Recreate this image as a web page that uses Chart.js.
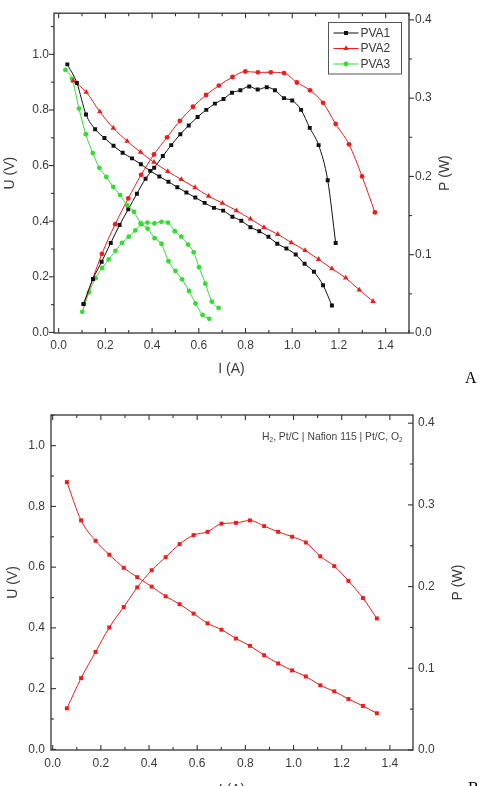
<!DOCTYPE html>
<html>
<head>
<meta charset="utf-8">
<script src="https://cdn.jsdelivr.net/npm/chart.js@4/dist/chart.umd.min.js"></script>
<style>
html,body{margin:0;padding:0;background:#fff;overflow:hidden;width:484px;height:786px;}
#ca{position:absolute;left:0;top:0;}
#cb{position:absolute;left:0;top:390px;}
.panel{position:absolute;font-family:"Liberation Serif","Times New Roman",serif;font-size:16px;color:#000;line-height:16px;}
#note{position:absolute;right:81px;top:431px;font-family:"Liberation Sans",Arial,sans-serif;font-size:11px;line-height:11px;color:#444;white-space:nowrap;transform:scaleX(0.94);transform-origin:right center;}
#note sub{font-size:7px;line-height:0;vertical-align:-2px;}
</style>
</head>
<body>
<canvas id="ca" width="484" height="390"></canvas>
<canvas id="cb" width="484" height="420"></canvas>
<div class="panel" style="left:465px;top:370px;">A</div>
<div class="panel" style="left:468px;top:780px;">B</div>
<div id="note">H<sub>2</sub>, Pt/C | Nafion 115 | Pt/C, O<sub>2</sub></div>
<script>
// ---------- Panel A data ----------
const seriesNamesA = ['PVA1','PVA2','PVA3'];
const pva1U_I = [0.037,0.078,0.117,0.156,0.196,0.235,0.274,0.314,0.352,0.392,0.431,0.470,0.508,0.547,0.585,0.625,0.665,0.704,0.744,0.782,0.821,0.859,0.898,0.936,0.975,1.015,1.053,1.093,1.132,1.170];
const pva1U_V = [0.964,0.897,0.784,0.731,0.699,0.671,0.646,0.626,0.605,0.581,0.561,0.542,0.522,0.503,0.485,0.466,0.448,0.438,0.416,0.402,0.378,0.364,0.344,0.319,0.302,0.280,0.247,0.218,0.170,0.097];
const pva1P_I = [0.106,0.147,0.184,0.223,0.261,0.298,0.335,0.372,0.409,0.446,0.482,0.521,0.557,0.595,0.632,0.669,0.706,0.742,0.778,0.816,0.852,0.891,0.926,0.965,1.000,1.038,1.075,1.113,1.152,1.186];
const pva1P_W = [0.037,0.069,0.091,0.115,0.138,0.158,0.178,0.197,0.211,0.226,0.240,0.254,0.265,0.276,0.285,0.293,0.299,0.307,0.310,0.315,0.311,0.314,0.310,0.300,0.297,0.285,0.262,0.240,0.195,0.115];
const pva2U_I = [0.062,0.118,0.176,0.234,0.293,0.351,0.408,0.467,0.525,0.584,0.642,0.701,0.761,0.821,0.879,0.938,0.996,1.055,1.113,1.170,1.229,1.287,1.346];
const pva2U_V = [0.905,0.864,0.794,0.735,0.688,0.648,0.612,0.579,0.550,0.521,0.490,0.465,0.438,0.408,0.378,0.353,0.323,0.295,0.263,0.229,0.196,0.153,0.112];
const pva2P_I = [0.108,0.185,0.242,0.298,0.353,0.408,0.464,0.519,0.575,0.631,0.686,0.744,0.799,0.853,0.908,0.965,1.020,1.076,1.132,1.186,1.243,1.299,1.354];
const pva2P_W = [0.037,0.101,0.139,0.172,0.202,0.228,0.250,0.271,0.289,0.304,0.316,0.327,0.334,0.333,0.333,0.332,0.320,0.310,0.294,0.267,0.241,0.200,0.154];
const pva3U_I = [0.029,0.057,0.087,0.116,0.146,0.174,0.204,0.234,0.263,0.292,0.322,0.351,0.381,0.411,0.440,0.470,0.500,0.528,0.558,0.586,0.616,0.645];
const pva3U_V = [0.944,0.912,0.805,0.713,0.645,0.592,0.559,0.523,0.494,0.458,0.434,0.393,0.373,0.339,0.319,0.256,0.221,0.191,0.149,0.104,0.063,0.049];
const pva3P_I = [0.101,0.130,0.158,0.186,0.214,0.243,0.271,0.300,0.328,0.354,0.380,0.410,0.440,0.468,0.497,0.525,0.554,0.578,0.601,0.628,0.656,0.685];
const pva3P_W = [0.027,0.052,0.070,0.083,0.094,0.105,0.115,0.123,0.131,0.139,0.141,0.140,0.142,0.141,0.130,0.123,0.113,0.103,0.084,0.063,0.040,0.032];
const ticksA_x = [0.0,0.2,0.4,0.6,0.8,1.0,1.2,1.4];
const ticksA_U = [0.0,0.2,0.4,0.6,0.8,1.0];
const ticksA_P = [0.0,0.1,0.2,0.3,0.4];

// ---------- Panel B data ----------
const nafionU_I = [0.059,0.118,0.178,0.235,0.295,0.351,0.411,0.469,0.527,0.585,0.643,0.701,0.761,0.819,0.878,0.936,0.994,1.051,1.111,1.169,1.228,1.288,1.346];
const nafionU_V = [0.880,0.754,0.687,0.641,0.598,0.567,0.536,0.504,0.478,0.447,0.415,0.394,0.365,0.341,0.310,0.283,0.260,0.240,0.211,0.191,0.166,0.143,0.119];
const nafionP_I = [0.059,0.118,0.178,0.235,0.295,0.351,0.411,0.469,0.527,0.585,0.643,0.701,0.761,0.819,0.878,0.936,0.994,1.051,1.111,1.169,1.228,1.288,1.346];
const nafionP_W = [0.051,0.088,0.120,0.150,0.175,0.199,0.220,0.236,0.252,0.263,0.267,0.277,0.278,0.281,0.274,0.267,0.261,0.254,0.237,0.225,0.207,0.186,0.161];
const ticksB_x = [0.0,0.2,0.4,0.6,0.8,1.0,1.2,1.4];
const ticksB_U = [0.0,0.2,0.4,0.6,0.8,1.0];
const ticksB_P = [0.0,0.1,0.2,0.3,0.4];

const pts = (xs, ys) => xs.map((x, i) => ({x: x, y: ys[i]}));

const BLACK = '#111111', RED = '#ee1c1c', GREEN = '#33dd33';
const AXC = '#333333', TXT = '#3a3a3a';
const FONT = '"Liberation Sans", Arial, sans-serif';

function ds(label, data, color, style, radius, yAxis, inLegend) {
  return {label, data, borderColor: color, backgroundColor: color, borderWidth: 1,
    pointStyle: style, pointRadius: radius, pointHoverRadius: radius, pointBorderWidth: 0,
    cubicInterpolationMode: 'monotone', yAxisID: yAxis, inLegend};
}

function minorVals(majors, max) {
  const out = [];
  const step = majors[1] - majors[0];
  for (let i = 0; i < majors.length; i++) {
    const m = majors[i] + step / 2;
    if (m <= max + 1e-9) out.push(m);
  }
  return out;
}

const frameTicks = {
  id: 'frameTicks',
  afterDatasetsDraw(chart, args, o) {
    const ctx = chart.ctx, a = chart.chartArea;
    ctx.save();
    ctx.strokeStyle = AXC; ctx.lineWidth = 1.3;
    ctx.strokeRect(a.left, a.top, a.right - a.left, a.bottom - a.top);
    ctx.lineWidth = 1.1;
    const seg = (x1, y1, x2, y2) => { ctx.beginPath(); ctx.moveTo(x1, y1); ctx.lineTo(x2, y2); ctx.stroke(); };
    const doAxis = (scale, majors, side, dir) => {
      const minors = minorVals(majors, scale.max);
      const list = majors.map(v => [v, 5]).concat(minors.map(v => [v, 3]));
      list.forEach(([v, len]) => {
        const p = scale.getPixelForValue(v);
        const s = dir === 'in' ? 1 : -1;
        if (side === 'bottom') seg(p, a.bottom, p, a.bottom - s * len);
        if (side === 'top') seg(p, a.top, p, a.top + s * len);
        if (side === 'left') seg(a.left, p, a.left + s * len, p);
        if (side === 'right') seg(a.right, p, a.right - s * len, p);
      });
    };
    const s = chart.scales;
    doAxis(s.x, o.xT, 'bottom', o.dirs.bottom);
    doAxis(s.x, o.xT, 'top', o.dirs.top);
    doAxis(s.y, o.uT, 'left', o.dirs.left);
    doAxis(s.y2, o.pT, 'right', o.dirs.right);
    // right axis title, reading bottom-to-top like the left one
    ctx.fillStyle = TXT; ctx.font = '14px ' + FONT;
    ctx.textAlign = 'center'; ctx.textBaseline = 'middle';
    ctx.translate(o.rightTitleX, (a.top + a.bottom) / 2);
    ctx.rotate(-Math.PI / 2);
    ctx.fillText(o.rightTitle, 0, 0);
    ctx.restore();
  }
};

const boxLegend = {
  id: 'boxLegend',
  afterDatasetsDraw(chart, args, o) {
    if (!o.show) return;
    const ctx = chart.ctx;
    ctx.save();
    ctx.strokeStyle = '#555'; ctx.lineWidth = 1;
    ctx.strokeRect(o.x, o.y, o.w, o.h);
    const items = chart.data.datasets.filter(d => d.inLegend);
    items.forEach((d, i) => {
      const cy = o.y + o.first + i * o.row;
      ctx.strokeStyle = d.borderColor; ctx.lineWidth = 1;
      ctx.beginPath(); ctx.moveTo(o.x + o.lineX0, cy); ctx.lineTo(o.x + o.lineX1, cy); ctx.stroke();
      ctx.fillStyle = d.backgroundColor;
      Chart.helpers.drawPoint(ctx, {pointStyle: d.pointStyle, radius: d.pointRadius, rotation: 0, borderWidth: 0},
        o.x + (o.lineX0 + o.lineX1) / 2, cy);
      ctx.fillStyle = TXT; ctx.font = '12px ' + FONT; ctx.textBaseline = 'middle'; ctx.textAlign = 'left';
      ctx.fillText(d.label, o.x + o.textX, cy + 0.5);
    });
    ctx.restore();
  }
};

function makeScales(cfg) {
  const tickFont = {family: FONT, size: 12};
  const titleFont = {family: FONT, size: 14};
  const fix = (vals) => (scale) => { scale.ticks = vals.map(v => ({value: v})); };
  return {
    x: {type: 'linear', position: 'bottom', min: cfg.xMin, max: cfg.xMax,
      afterBuildTicks: fix(cfg.xT), afterFit: s => { s.height = cfg.xH; },
      grid: {display: false, drawTicks: false}, border: {display: false},
      ticks: {font: tickFont, color: TXT, padding: cfg.xPad, maxRotation: 0, callback: v => v.toFixed(1)},
      title: {display: true, text: 'I (A)', font: titleFont, color: TXT, padding: {top: 0, bottom: cfg.xTitlePad}}},
    y: {type: 'linear', position: 'left', min: cfg.uMin, max: cfg.uMax,
      afterBuildTicks: fix(cfg.uT), afterFit: s => { s.width = cfg.yW; },
      grid: {display: false, drawTicks: false}, border: {display: false},
      ticks: {font: tickFont, color: TXT, padding: cfg.yPad, callback: v => v.toFixed(1)},
      title: {display: true, text: 'U (V)', font: titleFont, color: TXT, padding: {top: cfg.yTitlePad, bottom: 0}}},
    y2: {type: 'linear', position: 'right', min: 0, max: cfg.pMax,
      afterBuildTicks: fix(cfg.pT), afterFit: s => { s.width = cfg.y2W; },
      grid: {display: false, drawTicks: false}, border: {display: false},
      ticks: {font: tickFont, color: TXT, padding: cfg.y2Pad, callback: v => v.toFixed(1)},
      title: {display: false}}
  };
}

const common = {responsive: false, animation: false, devicePixelRatio: 1,
  interaction: {mode: null}, events: []};

new Chart(document.getElementById('ca'), {
  type: 'line',
  data: {datasets: [
    ds(seriesNamesA[0], pts(pva1U_I, pva1U_V), BLACK, 'rect', 2.8, 'y', true),
    ds(seriesNamesA[1], pts(pva2U_I, pva2U_V), RED, 'triangle', 3.2, 'y', true),
    ds(seriesNamesA[2], pts(pva3U_I, pva3U_V), GREEN, 'circle', 2.4, 'y', true),
    ds(seriesNamesA[0] + ' P', pts(pva1P_I, pva1P_W), BLACK, 'rect', 2.8, 'y2', false),
    ds(seriesNamesA[1] + ' P', pts(pva2P_I, pva2P_W), RED, 'circle', 2.4, 'y2', false),
    ds(seriesNamesA[2] + ' P', pts(pva3P_I, pva3P_W), GREEN, 'circle', 2.4, 'y2', false)
  ]},
  options: Object.assign({}, common, {
    layout: {padding: {top: 9, left: 0, right: 0, bottom: 0}},
    scales: makeScales({xMin: -0.02, xMax: 1.5, uMin: -0.002, uMax: 1.148, pMax: 0.4085,
      xT: ticksA_x, uT: ticksA_U, pT: ticksA_P,
      xH: 57, yW: 54, y2W: 75, xPad: 5, yPad: 5, y2Pad: 6,
      xTitlePad: 12.6, yTitlePad: 1.6}),
    plugins: {legend: {display: false}, tooltip: {enabled: false},
      frameTicks: {xT: ticksA_x, uT: ticksA_U, pT: ticksA_P, rightTitle: 'P (W)', rightTitleX: 445,
        dirs: {bottom: 'in', top: 'in', left: 'out', right: 'out'}},
      boxLegend: {show: true, x: 328.5, y: 22.5, w: 73, h: 51.5, first: 10.5, row: 15.5,
        lineX0: 5, lineX1: 30, textX: 32}}
  }),
  plugins: [frameTicks, boxLegend]
});

new Chart(document.getElementById('cb'), {
  type: 'line',
  data: {datasets: [
    ds('U', pts(nafionU_I, nafionU_V), RED, 'rect', 2.8, 'y', false),
    ds('P', pts(nafionP_I, nafionP_W), RED, 'rect', 2.8, 'y2', false)
  ]},
  options: Object.assign({}, common, {
    layout: {padding: {top: 25, left: 0, right: 0, bottom: 0}},
    scales: makeScales({xMin: -0.007, xMax: 1.496, uMin: -0.002, uMax: 1.101, pMax: 0.41,
      xT: ticksB_x, uT: ticksB_U, pT: ticksB_P,
      xH: 60, yW: 51, y2W: 71, xPad: 6, yPad: 6, y2Pad: 5,
      xTitlePad: 11.6, yTitlePad: 4.9}),
    plugins: {legend: {display: false}, tooltip: {enabled: false},
      frameTicks: {xT: ticksB_x, uT: ticksB_U, pT: ticksB_P, rightTitle: 'P (W)', rightTitleX: 458,
        dirs: {bottom: 'in', top: 'in', left: 'in', right: 'in'}},
      boxLegend: {show: false}}
  }),
  plugins: [frameTicks, boxLegend]
});
</script>
</body>
</html>
